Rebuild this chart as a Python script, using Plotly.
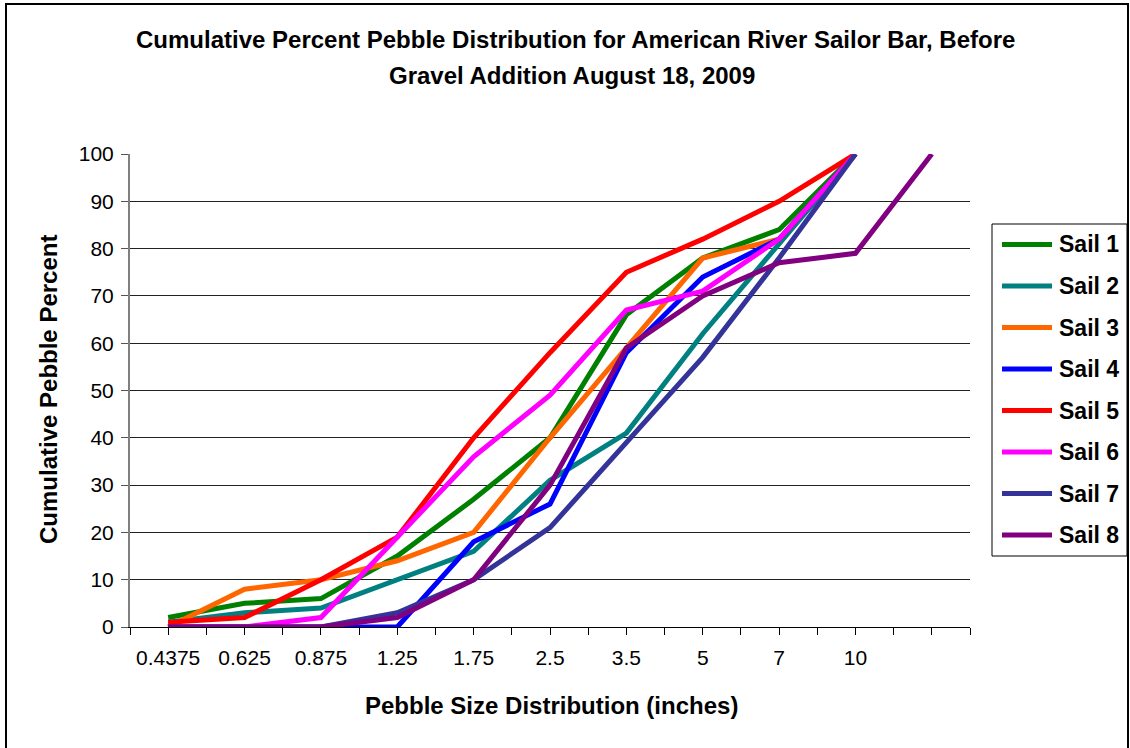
import plotly.graph_objects as go

# ---------------- data ----------------
sizes = ["0.4375", "0.625", "0.875", "1.25", "1.75", "2.5", "3.5", "5", "7", "10", ""]
series_names = ["Sail 1", "Sail 2", "Sail 3", "Sail 4", "Sail 5", "Sail 6", "Sail 7", "Sail 8"]
sail1 = [2, 5, 6, 15, 27, 40, 66, 78, 84, 100]
sail2 = [1, 3, 4, 10, 16, 31, 41, 62, 81, 100]
sail3 = [0, 8, 10, 14, 20, 40, 59, 78, 82, 100]
sail4 = [0, 0, 0, 0, 18, 26, 58, 74, 82, 100]
sail5 = [1, 2, 10, 19, 40, 58, 75, 82, 90, 100]
sail6 = [0, 0, 2, 19, 36, 49, 67, 71, 82, 100]
sail7 = [0, 0, 0, 3, 10, 21, 39, 57, 78, 100]
sail8 = [0, 0, 0, 2, 10, 30, 59, 70, 77, 79, 100]
y_ticks = [0, 10, 20, 30, 40, 50, 60, 70, 80, 90, 100]

# ---------------- styles ----------------
colors = ["#008000", "#008080", "#FF6600", "#0000FF", "#FF0000", "#FF00FF", "#333399", "#800080"]
FONT = "Liberation Sans, Arial, sans-serif"
W, H = 1130, 748
L, R, T, B = 130, 160, 154, 121
PW, PH = W - L - R, H - T - B


def px(x):
    return (x - L) / PW


def py(y):
    return (H - B - y) / PH


all_series = [sail1, sail2, sail3, sail4, sail5, sail6, sail7, sail8]
fig = go.Figure()
for name, vals, col in zip(series_names, all_series, colors):
    fig.add_trace(go.Scatter(
        x=list(range(len(vals))), y=vals, mode="lines", name=name,
        line=dict(color=col, width=5), showlegend=False,
    ))

fig.update_layout(
    width=W, height=H,
    margin=dict(l=L, r=R, t=T, b=B),
    paper_bgcolor="white", plot_bgcolor="white",
    font=dict(family=FONT, color="black"),
    xaxis=dict(
        range=[-0.5, len(sizes) - 0.5],
        tickmode="array", tickvals=list(range(len(sizes))), ticktext=sizes,
        ticks="outside", ticklen=7, tickcolor="black", tickwidth=1,
        minor=dict(dtick=0.5, tick0=-0.5, ticks="outside", ticklen=7, tickcolor="black", tickwidth=1, showgrid=False),
        showgrid=False, zeroline=False,
        showline=True, linecolor="black", linewidth=1,
        tickfont=dict(size=21, family=FONT, color="black"),
        ticklabelstandoff=5,
    ),
    yaxis=dict(
        range=[0, 100], tickmode="array", tickvals=y_ticks,
        ticks="outside", ticklen=7, tickcolor="#555", tickwidth=1,
        showgrid=True, gridcolor="#222", gridwidth=1,
        zeroline=False, showline=True, linecolor="#808080", linewidth=2,
        tickfont=dict(size=21, family=FONT, color="black"),
        ticklabelstandoff=3,
    ),
)

annotations = [
    dict(text="<b>Cumulative Percent Pebble Distribution for American River Sailor Bar, Before</b>",
         x=px(575), y=py(40), font=dict(size=24)),
    dict(text="<b>Gravel Addition August 18, 2009</b>", x=px(572), y=py(75), font=dict(size=24)),
    dict(text="<b>Pebble Size Distribution (inches)</b>", x=px(551), y=py(705), font=dict(size=24)),
    dict(text="<b>Cumulative Pebble Percent</b>", x=px(48), y=py(390), font=dict(size=24), textangle=-90),
]
for a in annotations:
    a.update(xref="paper", yref="paper", showarrow=False, xanchor="center", yanchor="middle")
    a["font"].update(family=FONT, color="black")

shapes = [
    # outer chart border
    dict(type="rect", xref="paper", yref="paper", x0=px(6), x1=px(1128), y0=py(770), y1=py(4),
         line=dict(color="black", width=2), fillcolor="rgba(0,0,0,0)", layer="below"),
    # legend box
    dict(type="rect", xref="paper", yref="paper", x0=px(992), x1=px(1127), y0=py(556), y1=py(224),
         line=dict(color="black", width=1), fillcolor="white"),
]
for i, (name, col) in enumerate(zip(series_names, colors)):
    yy = 244.5 + i * 41.5
    shapes.append(dict(type="line", xref="paper", yref="paper", x0=px(1002), x1=px(1052), y0=py(yy), y1=py(yy),
                       line=dict(color=col, width=5)))
    annotations.append(dict(text="<b>" + name + "</b>", xref="paper", yref="paper", x=px(1057), y=py(yy),
                            xanchor="left", yanchor="middle", showarrow=False,
                            font=dict(size=23, family=FONT, color="black")))

fig.update_layout(annotations=annotations, shapes=shapes)
fig.write_html("out.html")
